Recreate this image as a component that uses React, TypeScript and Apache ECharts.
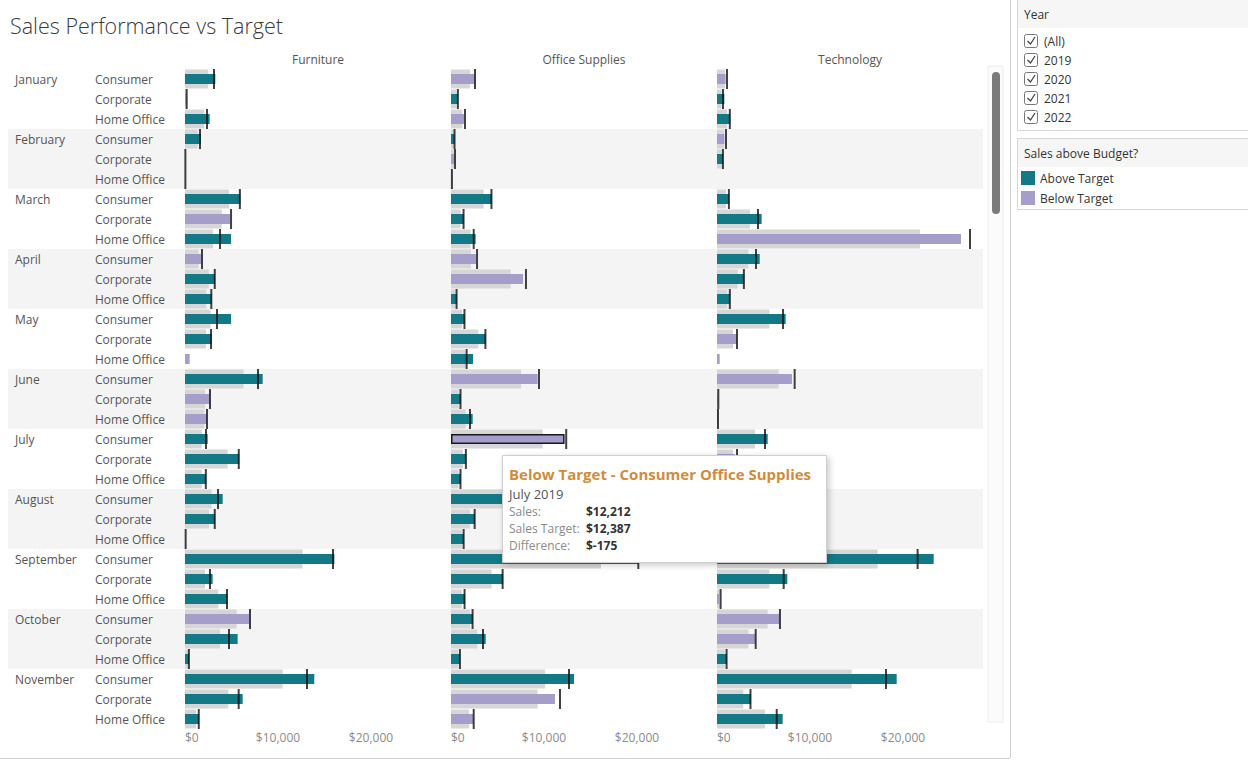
import React, { useEffect, useRef } from "react";
import * as echarts from "echarts";

const months = ["January", "February", "March", "April", "May", "June", "July", "August", "September", "October", "November"];
const segments = ["Consumer", "Corporate", "Home Office"];
const categories = ["Furniture", "Office Supplies", "Technology"];
const axisTicks = [0, 10000, 20000];

// rows: month x segment (33)
const furnitureSales = [3260, 60, 2650, 1720, 0, 0, 5950, 4840, 4950, 1720, 3230, 2870, 4950, 2870, 500, 8350, 2620, 2330, 2440, 5830, 2270, 4050, 3230, 0, 16060, 2970, 4550, 6880, 5660, 440, 13900, 6200, 1520];
const furnitureTarget = [3120, 180, 2365, 1610, 40, 40, 5900, 4950, 3760, 1830, 3200, 2830, 3440, 2800, null, 7850, 2690, 2365, 2260, 5780, 2240, 3550, 3200, 70, 15910, 2690, 4515, 6990, 4730, 420, 13120, 5770, 1480];
const furnitureBand = [2500, 140, 2080, 1360, 30, 30, 4730, 3960, 3010, 1460, 2560, 2290, 2750, 2260, 0, 6300, 2150, 2080, 1800, 4590, 1800, 2870, 2580, 50, 12650, 2150, 3580, 5560, 3760, 340, 10500, 4660, 1200];

const officeSales = [2510, 760, 1400, 400, 360, 0, 4400, 1380, 2650, 2690, 7740, 630, 1480, 3740, 2370, 9320, 1050, 2330, 12212, 1640, 1050, 8500, 2580, 1400, 20200, 5600, 1500, 2360, 3730, 990, 13230, 11180, 2400];
const officeTarget = [2580, 740, 1505, 380, 430, 100, 4350, 1350, 2440, 2800, 8060, 600, 1450, 3700, 1680, 9460, 1020, 2040, 12387, 1600, 1020, 8000, 2545, 1360, 20140, 5550, 1460, 2320, 3440, 960, 12690, 11720, 2440];
const officeBand = [2040, 590, 1220, 300, 320, 60, 3510, 1040, 2110, 2150, 6420, 470, 1180, 2940, 1580, 7530, 820, 1580, 9860, 1280, 820, 6400, 2040, 1180, 16130, 4370, 1170, 2040, 2830, 760, 10110, 9320, 1950];

const techSales = [930, 790, 1420, 790, 660, 0, 1300, 4800, 26230, 4590, 2930, 1410, 7380, 2110, 290, 8060, 60, 40, 5450, 1900, 800, 3500, 1500, 400, 23300, 7560, 215, 6670, 4090, 1060, 19320, 3650, 7060];
const techTarget = [1075, 645, 1380, 970, 640, null, 1280, 4410, 27200, 4190, 2890, 1380, 7100, 2150, null, 8350, 140, 110, 5160, 2150, 700, 3200, 1700, 350, 21570, 7170, 390, 6770, 4160, 1030, 18170, 3600, 6420];
const techBand = [860, 500, 1100, 780, 510, 0, 970, 3550, 21830, 3370, 2220, 1100, 5630, 1720, 0, 6630, 110, 90, 4090, 1720, 560, 2560, 1360, 280, 17270, 5630, 300, 5450, 3370, 830, 14480, 2830, 5160];

const years = ["(All)", "2019", "2020", "2021", "2022"];
const legendItems = ["Above Target", "Below Target"];
const selectedPoint = { category: "Office Supplies", month: "July", segment: "Consumer", year: "2019" };

const TEAL = "#137986";
const PURPLE = "#a59dca";
const BAND = "#d6d6d6";
const FONT = "'Open Sans', 'Noto Sans', sans-serif";

const ROWS = months.flatMap((m) => segments.map((s) => `${m}|${s}`));
const panels = [
  { name: categories[0], sales: furnitureSales, target: furnitureTarget, band: furnitureBand },
  { name: categories[1], sales: officeSales, target: officeTarget, band: officeBand },
  { name: categories[2], sales: techSales, target: techTarget, band: techBand },
];

const PANEL_LEFT = [185, 451, 717];
const PANEL_W = 266;
const GRID_TOP = 69;
const GRID_H = 660;
const X_MAX = 28600;

const money = (v: number) => "$" + v.toLocaleString("en-US");

function buildOption() {
  const grid: any[] = PANEL_LEFT.map((l) => ({ left: l, top: GRID_TOP, width: PANEL_W, height: GRID_H }));
  grid.push({ left: 8, top: GRID_TOP, width: 975, height: GRID_H });

  const xAxis: any[] = [];
  panels.forEach((p, i) => {
    xAxis.push({
      type: "value", gridIndex: i, min: 0, max: X_MAX, interval: axisTicks[1] - axisTicks[0],
      axisLine: { show: false }, axisTick: { show: false }, splitLine: { show: false },
      axisLabel: {
        formatter: (v: number) => (axisTicks.includes(v) ? money(v) : ""),
        color: "#8a8a8a", fontSize: 12, margin: 2, alignMinLabel: "left", showMaxLabel: false, fontFamily: FONT,
      },
    });
  });
  panels.forEach((p, i) => {
    xAxis.push({
      type: "value", gridIndex: i, position: "top", min: 0, max: 1, name: p.name, nameLocation: "middle", nameGap: 4,
      nameTextStyle: { color: "#555", fontSize: 12, fontFamily: FONT },
      axisLine: { show: false }, axisTick: { show: false }, splitLine: { show: false }, axisLabel: { show: false },
    });
  });
  xAxis.push({ type: "value", gridIndex: 3, min: 0, max: 1, show: false });

  const yAxis: any[] = [];
  panels.forEach((p, i) => {
    yAxis.push({
      type: "category", gridIndex: i, data: ROWS, inverse: true, position: "left",
      axisLine: { show: false }, axisTick: { show: false }, splitLine: { show: false },
      axisLabel: i === 0
        ? { show: true, interval: 0, align: "left", margin: 90, color: "#555", fontSize: 12, fontFamily: FONT, formatter: (v: string) => v.split("|")[1] }
        : { show: false },
    });
  });
  panels.forEach((p, i) => {
    yAxis.push({ type: "category", gridIndex: i, data: ROWS, inverse: true, show: false });
  });
  yAxis.push({
    type: "category", gridIndex: 0, data: ROWS, inverse: true, position: "left",
    axisLine: { show: false }, axisTick: { show: false }, splitLine: { show: false },
    axisLabel: {
      show: true, interval: 0, align: "left", margin: 170, color: "#555", fontSize: 12, fontFamily: FONT,
      formatter: (v: string) => { const [m, s] = v.split("|"); return s === segments[0] ? m : ""; },
    },
  });
  yAxis.push({
    type: "category", gridIndex: 3, data: ROWS, inverse: true,
    axisLine: { show: false }, axisTick: { show: false }, axisLabel: { show: false }, splitLine: { show: false },
    splitArea: { show: true, interval: 2, areaStyle: { color: ["#ffffff", "#f4f4f4"] } },
  });

  const series: any[] = [];
  panels.forEach((p, i) => {
    series.push({
      type: "bar", xAxisIndex: i, yAxisIndex: 3 + i, data: p.band, barWidth: 19,
      itemStyle: { color: BAND }, silent: true, z: 1,
    });
    series.push({
      type: "bar", xAxisIndex: i, yAxisIndex: i, barWidth: 10, z: 2,
      data: p.sales.map((v, r) => {
        const t = p.target[r];
        const above = t != null && v >= t;
        const sel = p.name === selectedPoint.category && ROWS[r] === `${selectedPoint.month}|${selectedPoint.segment}`;
        return {
          value: v,
          itemStyle: { color: above ? TEAL : PURPLE, borderColor: sel ? "#1a1a1a" : undefined, borderWidth: sel ? 1.5 : 0 },
        };
      }),
    });
    series.push({
      type: "scatter", xAxisIndex: i, yAxisIndex: i, symbol: "rect", symbolSize: [2, 20], z: 3,
      itemStyle: { color: "#111" },
      data: p.target.map((t, r) => (t == null ? null : [t, r])).filter((d) => d != null),
    });
  });

  // tooltip-like overlay for the selected mark
  const selPanel = panels.find((p) => p.name === selectedPoint.category)!;
  const selRow = ROWS.indexOf(`${selectedPoint.month}|${selectedPoint.segment}`);
  const sSales = selPanel.sales[selRow];
  const sTarget = selPanel.target[selRow] as number;
  const diff = sSales - sTarget;
  const status = sSales >= sTarget ? legendItems[0] : legendItems[1];

  const graphic: any[] = [];
  // sheet borders
  graphic.push({ type: "line", shape: { x1: 1010.5, y1: 0, x2: 1010.5, y2: 758 }, style: { stroke: "#cfcfcf", lineWidth: 1 }, z: 10 });
  graphic.push({ type: "line", shape: { x1: 0, y1: 758.5, x2: 1010, y2: 758.5 }, style: { stroke: "#cfcfcf", lineWidth: 1 }, z: 10 });
  // scrollbar
  graphic.push({ type: "rect", shape: { x: 988, y: 66, width: 15, height: 656 }, style: { fill: "#fbfbfb", stroke: "#ececec" }, z: 10 });
  graphic.push({ type: "rect", shape: { x: 992, y: 72, width: 8, height: 142, r: 4 }, style: { fill: "#7b7b7b" }, z: 11 });

  // Year filter
  graphic.push({ type: "rect", shape: { x: 1017.5, y: -1, width: 240, height: 131.5 }, style: { fill: "#fff", stroke: "#d6d6d6" }, z: 10 });
  graphic.push({ type: "rect", shape: { x: 1018, y: 0, width: 230, height: 28 }, style: { fill: "#f6f6f6" }, z: 10 });
  graphic.push({ type: "text", x: 1024, y: 14, style: { text: "Year", fill: "#333", fontSize: 12, fontFamily: FONT, verticalAlign: "middle" }, z: 11 });
  years.forEach((y, k) => {
    const cy = 41 + k * 19;
    graphic.push({ type: "rect", shape: { x: 1024.5, y: cy - 6.5, width: 13, height: 13, r: 2 }, style: { fill: "#fff", stroke: "#777", lineWidth: 1 }, z: 11 });
    graphic.push({ type: "polyline", shape: { points: [[1027.5, cy], [1030.5, cy + 3], [1035, cy - 4]] }, style: { stroke: "#444", lineWidth: 1.3, fill: null }, z: 12 });
    graphic.push({ type: "text", x: 1044, y: cy, style: { text: y, fill: "#333", fontSize: 12, fontFamily: FONT, verticalAlign: "middle" }, z: 11 });
  });

  // Color legend
  graphic.push({ type: "rect", shape: { x: 1017.5, y: 138.5, width: 240, height: 71 }, style: { fill: "#fff", stroke: "#d6d6d6" }, z: 10 });
  graphic.push({ type: "rect", shape: { x: 1018, y: 139, width: 230, height: 28 }, style: { fill: "#f6f6f6" }, z: 10 });
  graphic.push({ type: "text", x: 1024, y: 153, style: { text: "Sales above Budget?", fill: "#333", fontSize: 12, fontFamily: FONT, verticalAlign: "middle" }, z: 11 });
  legendItems.forEach((name, k) => {
    const cy = 178 + k * 20;
    graphic.push({ type: "rect", shape: { x: 1021, y: cy - 7, width: 14, height: 14 }, style: { fill: k === 0 ? TEAL : PURPLE }, z: 11 });
    graphic.push({ type: "text", x: 1040, y: cy, style: { text: name, fill: "#333", fontSize: 12, fontFamily: FONT, verticalAlign: "middle" }, z: 11 });
  });

  // Tooltip
  const tx = 502, ty = 455;
  graphic.push({
    type: "rect", shape: { x: tx + 0.5, y: ty + 0.5, width: 324, height: 107 },
    style: { fill: "#fff", stroke: "#cfcfcf", lineWidth: 1, shadowBlur: 6, shadowColor: "rgba(0,0,0,0.22)", shadowOffsetX: 2, shadowOffsetY: 2 }, z: 20,
  });
  graphic.push({ type: "text", x: tx + 7, y: ty + 19, style: { text: `${status} - ${selectedPoint.segment} ${selectedPoint.category}`, fill: "#cf8c3d", fontSize: 15, fontWeight: "bold", fontFamily: FONT, verticalAlign: "middle" }, z: 21 });
  graphic.push({ type: "text", x: tx + 7, y: ty + 39, style: { text: `${selectedPoint.month} ${selectedPoint.year}`, fill: "#555", fontSize: 13, fontFamily: FONT, verticalAlign: "middle" }, z: 21 });
  const rowsT = [["Sales:", money(sSales)], ["Sales Target:", money(sTarget)], ["Difference:", "$" + diff.toString()]];
  rowsT.forEach(([lab, val], k) => {
    const cy = ty + 56 + k * 17;
    graphic.push({ type: "text", x: tx + 7, y: cy, style: { text: lab, fill: "#8a8a8a", fontSize: 12, fontFamily: FONT, verticalAlign: "middle" }, z: 21 });
    graphic.push({ type: "text", x: tx + 84, y: cy, style: { text: val, fill: "#333", fontSize: 12, fontWeight: "bold", fontFamily: FONT, verticalAlign: "middle" }, z: 21 });
  });

  return {
    animation: false,
    backgroundColor: "#fff",
    textStyle: { fontFamily: FONT },
    title: { text: "Sales Performance vs Target", left: 5, top: 9, textStyle: { fontSize: 21.5, fontWeight: 300, color: "#3a3a3a", fontFamily: FONT } },
    grid, xAxis, yAxis, series, graphic,
  };
}

export default function App() {
  const ref = useRef<HTMLDivElement>(null);
  useEffect(() => {
    if (!ref.current) return;
    const chart = echarts.init(ref.current, undefined, { renderer: "svg" });
    chart.setOption(buildOption() as any);
    return () => chart.dispose();
  }, []);
  return <div ref={ref} style={{ position: "fixed", left: 0, top: 0, width: 1248, height: 764, background: "#fff" }} />;
}
